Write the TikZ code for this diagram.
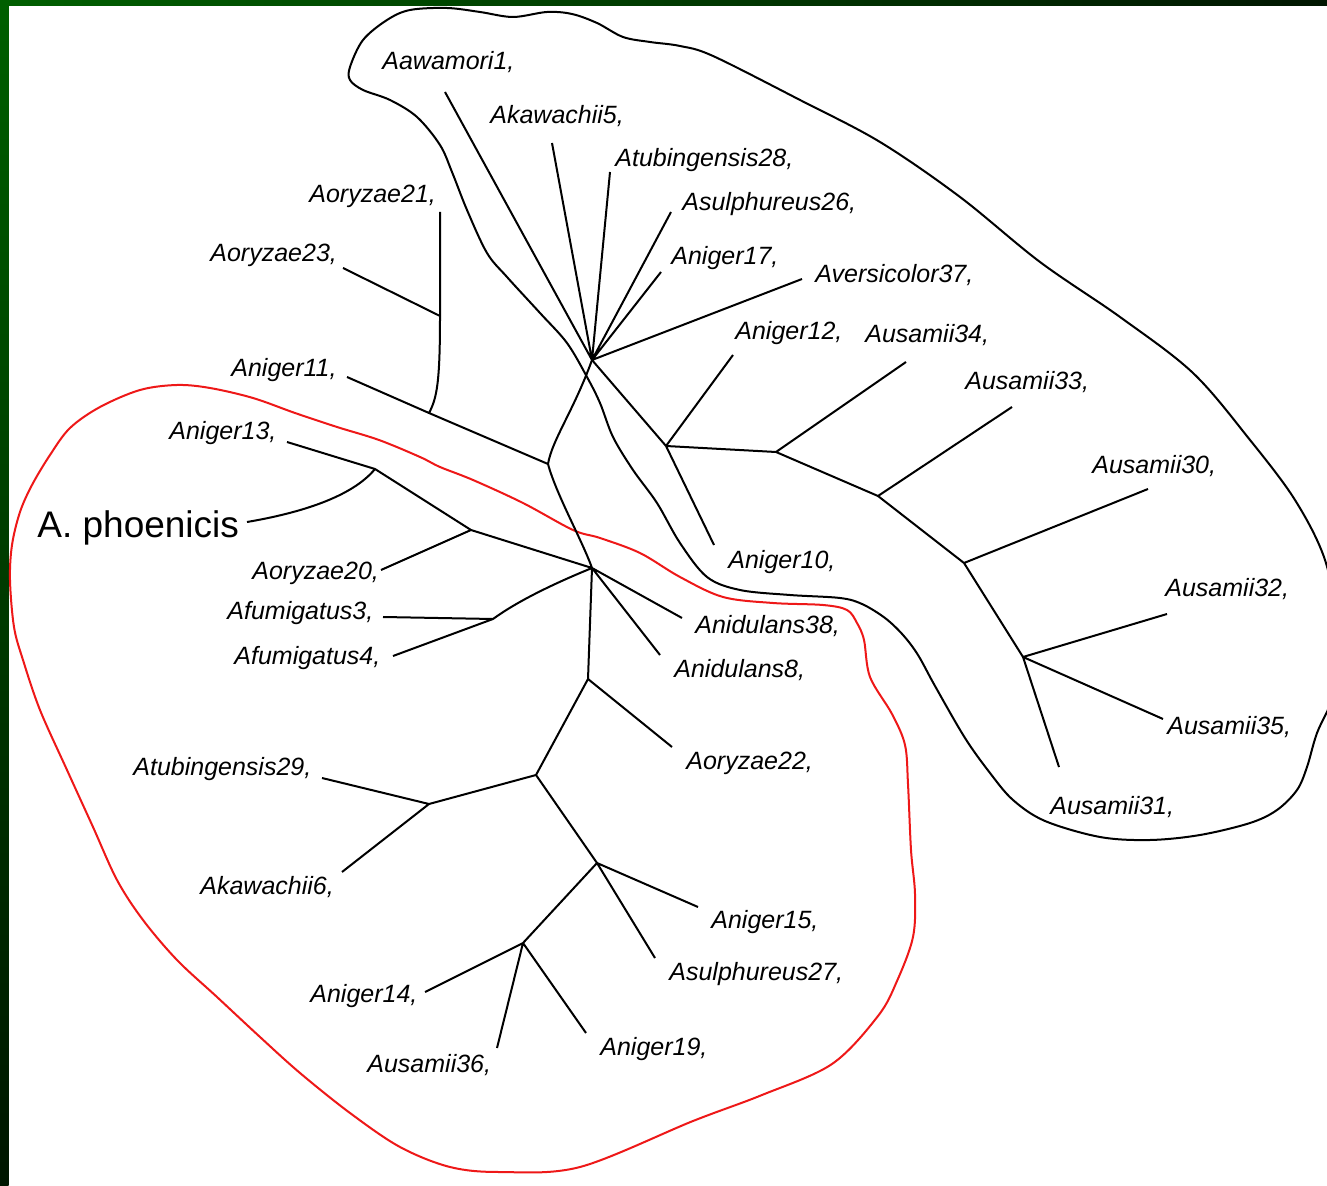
\documentclass[tikz,border=0pt]{standalone}
\usepackage{fontspec}
\setmainfont{Liberation Sans}
\usetikzlibrary{positioning}

\definecolor{framegreen}{RGB}{0,95,0}
\definecolor{framedark}{RGB}{0,22,0}
\definecolor{hullred}{RGB}{238,24,24}

\tikzset{
	taxon/.style={anchor=base west, inner sep=0pt, font=\fontsize{12.5}{15}\selectfont\itshape},
	species/.style={anchor=base west, inner sep=0pt, font=\fontsize{18.5}{22}\selectfont},
	branch/.style={line width=1pt, line join=round},
	hull/.style={line width=1pt}
}

\begin{document}
\begin{tikzpicture}[x=0.5pt, y=-0.5pt]
	\useasboundingbox (0,0) rectangle (1327,1186);
	\fill[white] (0,0) rectangle (1327,1186);
	\shade[left color=framegreen, right color=framedark] (0,0) rectangle (1327,6);
	\shade[top color=framegreen, bottom color=framedark] (0,0) rectangle (8.5,1186);

	\draw[hull, black] plot[smooth cycle, tension=0.55] coordinates {
		(350,67) (363,40) (387,20) (410,10) (447,8) (480,12) (513,17) (547,12) (572,14)
		(597,23) (623,37) (650,42) (680,46) (713,56) (800,100) (880,142) (960,197)
		(1040,262) (1120,317) (1193,373) (1250,440) (1295,500) (1325,560) (1338,630)
		(1335,690) (1317,733) (1307,767) (1297,790) (1277,810) (1250,823) (1200,835)
		(1150,840) (1100,837) (1045,821) (1013,800) (990,773) (965,738) (935,686)
		(918,655) (903,635) (885,618) (862,604) (840,598) (790,595) (740,590) (707,577)
		(680,543) (657,503) (633,470) (613,437) (600,403) (587,377) (567,343) (540,313)
		(507,277) (487,253) (467,210) (452,172) (440,145) (417,117) (390,100) (363,90)
		(350,80)};

	\draw[hull, hullred] plot[smooth cycle, tension=0.55] coordinates {
		(420,457) (379,440) (337,427) (295,413) (253,398) (210,388) (177,385) (140,390)
		(100,407) (70,428) (50,455) (32,485) (20,512) (12,545) (10,580) (14,627) (23,660)
		(40,710) (67,770) (93,827) (117,880) (143,920) (177,960) (217,997) (260,1037)
		(300,1073) (350,1113) (400,1147) (450,1167) (500,1172) (580,1167) (693,1121)
		(762,1095) (832,1064) (878,1016) (897,981) (913,937) (915,894) (911,850)
		(908,784) (905,745) (892,714) (870,677) (864,640) (857,623) (847,610) (823,605)
		(773,603) (723,597) (680,577) (640,553) (600,538) (573,530) (523,503) (473,480)
		(440,467)};

	\coordinate (hubA) at (592,360);
	\coordinate (nB) at (666,446);
	\coordinate (nC) at (776,452);
	\coordinate (nD) at (878,496);
	\coordinate (nE) at (964,563);
	\coordinate (nF) at (1023,657);
	\coordinate (nJ) at (548,464);
	\coordinate (nG) at (429,413);
	\coordinate (nH) at (440,316);
	\coordinate (hubB) at (592,568);
	\coordinate (nK) at (471,530);
	\coordinate (nL) at (375,469);
	\coordinate (nM) at (493,619);
	\coordinate (nN) at (588,679);
	\coordinate (nP) at (536,775);
	\coordinate (nQ) at (429,804);
	\coordinate (nR) at (597,863);
	\coordinate (nS) at (523,943);

	\coordinate (Aawamori1-t) at (445,92);
	\coordinate (Akawachii5-t) at (552,143);
	\coordinate (Atubingensis28-t) at (610,172);
	\coordinate (Asulphureus26-t) at (671,212);
	\coordinate (Aniger17-t) at (661,272);
	\coordinate (Aversicolor37-t) at (802,279);
	\coordinate (Aniger12-t) at (733,355);
	\coordinate (Aniger10-t) at (714,545);
	\coordinate (Ausamii34-t) at (906,362);
	\coordinate (Ausamii33-t) at (1012,407);
	\coordinate (Ausamii30-t) at (1148,489);
	\coordinate (Ausamii32-t) at (1167,614);
	\coordinate (Ausamii35-t) at (1163,719);
	\coordinate (Ausamii31-t) at (1059,767);
	\coordinate (Aoryzae21-t) at (440,212);
	\coordinate (Aoryzae23-t) at (343,268);
	\coordinate (Aniger11-t) at (347,377);
	\coordinate (Aniger13-t) at (287,442);
	\coordinate (phoenicis-t) at (247,522);
	\coordinate (Aoryzae20-t) at (381,570);
	\coordinate (Afumigatus3-t) at (383,617);
	\coordinate (Afumigatus4-t) at (393,656);
	\coordinate (Anidulans38-t) at (682,618);
	\coordinate (Anidulans8-t) at (660,655);
	\coordinate (Aoryzae22-t) at (672,747);
	\coordinate (Atubingensis29-t) at (322,778);
	\coordinate (Akawachii6-t) at (342,872);
	\coordinate (Aniger15-t) at (698,907);
	\coordinate (Asulphureus27-t) at (655,958);
	\coordinate (Aniger14-t) at (425,992);
	\coordinate (Ausamii36-t) at (497,1048);
	\coordinate (Aniger19-t) at (586,1033);

	\draw[branch]
		(hubA) -- (Aawamori1-t)
		(hubA) -- (Akawachii5-t)
		(hubA) -- (Atubingensis28-t)
		(hubA) -- (Asulphureus26-t)
		(hubA) -- (Aniger17-t)
		(hubA) -- (Aversicolor37-t)
		(hubA) -- (nB) -- (nC) -- (nD) -- (nE) -- (nF)
		(nB) -- (Aniger12-t)
		(nB) -- (Aniger10-t)
		(nC) -- (Ausamii34-t)
		(nD) -- (Ausamii33-t)
		(nE) -- (Ausamii30-t)
		(nF) -- (Ausamii32-t)
		(nF) -- (Ausamii35-t)
		(nF) -- (Ausamii31-t);

	\draw[branch]
		(hubA) .. controls (574,410) and (552,440) .. (nJ)
		(nJ) .. controls (556,494) and (582,540) .. (hubB)
		(nJ) -- (nG) -- (Aniger11-t)
		(nG) .. controls (437,398) and (440,382) .. (nH) -- (Aoryzae21-t)
		(nH) -- (Aoryzae23-t)
		(hubB) -- (nK) -- (nL) -- (Aniger13-t)
		(nK) -- (Aoryzae20-t)
		(nL) .. controls (352,497) and (300,513) .. (phoenicis-t)
		(hubB) .. controls (548,586) and (515,603) .. (nM)
		(nM) -- (Afumigatus3-t)
		(nM) -- (Afumigatus4-t)
		(hubB) -- (Anidulans38-t)
		(hubB) -- (Anidulans8-t)
		(hubB) -- (nN) -- (nP) -- (nR) -- (nS)
		(nN) -- (Aoryzae22-t)
		(nP) -- (nQ) -- (Atubingensis29-t)
		(nQ) -- (Akawachii6-t)
		(nR) -- (Aniger15-t)
		(nR) -- (Asulphureus27-t)
		(nS) -- (Aniger14-t)
		(nS) -- (Ausamii36-t)
		(nS) -- (Aniger19-t);

	\node[taxon] (Aawamori1) at (382,70) {Aawamori1,};
	\node[taxon] (Akawachii5) at (490,124) {Akawachii5,};
	\node[taxon] (Atubingensis28) at (615,167) {Atubingensis28,};
	\node[taxon] (Asulphureus26) at (682,211) {Asulphureus26,};
	\node[taxon] (Aniger17) at (671,265) {Aniger17,};
	\node[taxon] (Aversicolor37) at (815,283) {Aversicolor37,};
	\node[taxon] (Aniger12) at (735,340) {Aniger12,};
	\node[taxon] (Ausamii34) at (865,343) {Ausamii34,};
	\node[taxon] (Ausamii33) at (965,390) {Ausamii33,};
	\node[taxon] (Ausamii30) at (1092,474) {Ausamii30,};
	\node[taxon] (Aniger10) at (728,569) {Aniger10,};
	\node[taxon] (Ausamii32) at (1165,597) {Ausamii32,};
	\node[taxon] (Ausamii35) at (1167,734) {Ausamii35,};
	\node[taxon] (Ausamii31) at (1050,814) {Ausamii31,};
	\node[taxon] (Aoryzae21) at (309,203) {Aoryzae21,};
	\node[taxon] (Aoryzae23) at (210,262) {Aoryzae23,};
	\node[taxon] (Aniger11) at (231,377) {Aniger11,};
	\node[taxon] (Aniger13) at (169,440) {Aniger13,};
	\node[species] (phoenicis) at (37,538) {A. phoenicis};
	\node[taxon] (Aoryzae20) at (252,580) {Aoryzae20,};
	\node[taxon] (Afumigatus3) at (227,620) {Afumigatus3,};
	\node[taxon] (Afumigatus4) at (234,665) {Afumigatus4,};
	\node[taxon] (Anidulans38) at (695,634) {Anidulans38,};
	\node[taxon] (Anidulans8) at (674,677) {Anidulans8,};
	\node[taxon] (Aoryzae22) at (686,769) {Aoryzae22,};
	\node[taxon] (Atubingensis29) at (133,775) {Atubingensis29,};
	\node[taxon] (Akawachii6) at (200,894) {Akawachii6,};
	\node[taxon] (Aniger15) at (711,928) {Aniger15,};
	\node[taxon] (Asulphureus27) at (669,980) {Asulphureus27,};
	\node[taxon] (Aniger14) at (310,1002) {Aniger14,};
	\node[taxon] (Ausamii36) at (367,1072) {Ausamii36,};
	\node[taxon] (Aniger19) at (600,1055) {Aniger19,};
\end{tikzpicture}
\end{document}
